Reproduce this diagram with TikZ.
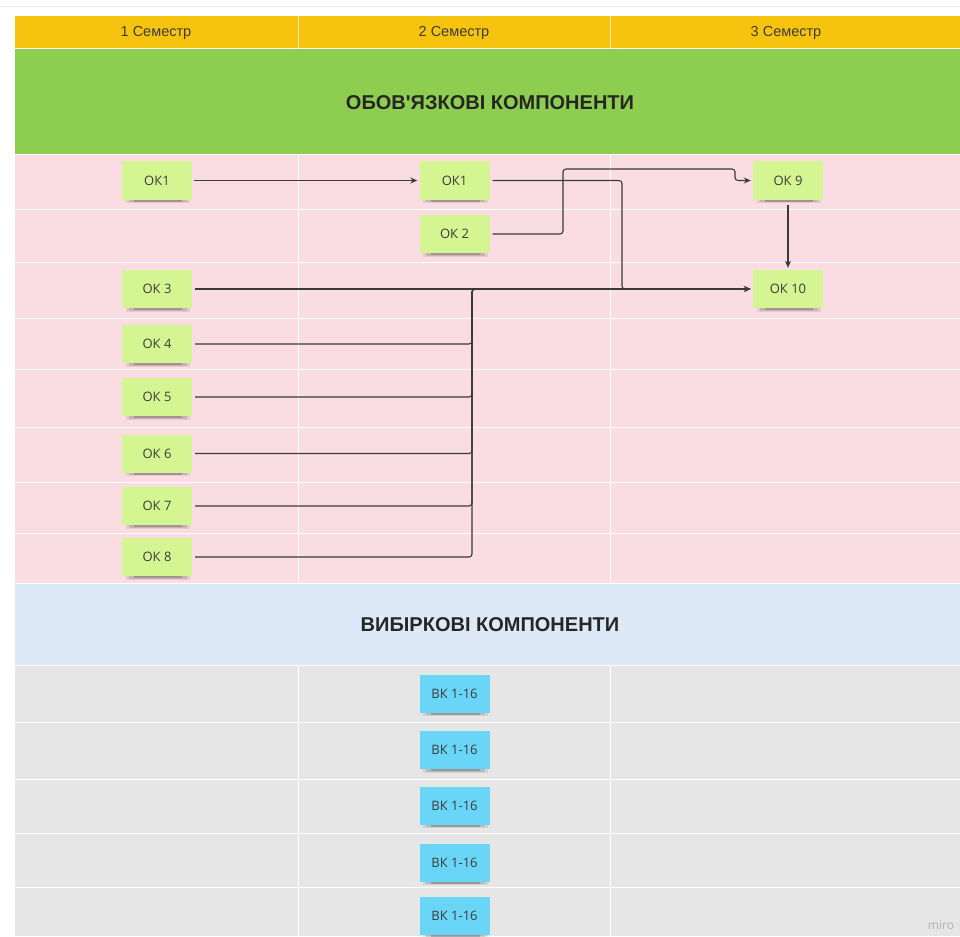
\documentclass[tikz,border=0pt]{standalone}
\usepackage{fontspec}
\setmainfont{Liberation Sans}
\newfontfamily\stickyfont{Open Sans}
\usetikzlibrary{arrows.meta,calc}
\definecolor{hdryellow}{HTML}{F6C30F}
\definecolor{bandgreen}{HTML}{8DCD4F}
\definecolor{rowpink}{HTML}{F9DDE2}
\definecolor{bandblue}{HTML}{DDE9F6}
\definecolor{rowgray}{HTML}{E6E6E6}
\definecolor{notegreen}{HTML}{D5F592}
\definecolor{noteblue}{HTML}{6AD6F7}
\definecolor{linegray}{HTML}{3A3A3A}
\definecolor{txtgray}{HTML}{3C3C3C}
\tikzset{
  sticky/.style={minimum width=70pt, minimum height=38pt, inner sep=0pt,
    font=\stickyfont\fontsize{13}{15}\selectfont, text=txtgray},
  okbox/.style={sticky, fill=notegreen},
  vkbox/.style={sticky, fill=noteblue},
  conn/.style={draw=linegray, line width=1.1pt, rounded corners=3pt},
  arr/.style={-{Stealth[length=7pt,width=6pt]}},
  sep/.style={draw=white, line width=1pt},
  hdr/.style={font=\fontsize{14.5}{16}\selectfont, text=txtgray},
  band/.style={font=\bfseries\fontsize{20}{22}\selectfont, text=black!85}
}
\newcommand{\notesh}[1]{%
  \fill[black,opacity=0.08] ($(#1.south west)+(4,-2)$) rectangle ($(#1.south east)+(-2,3.5)$);
  \fill[black,opacity=0.12] ($(#1.south west)+(7,-2)$) rectangle ($(#1.south east)+(-5,2.5)$);
  \fill[black,opacity=0.18] ($(#1.south west)+(12,-2)$) rectangle ($(#1.south east)+(-10,2)$);}
\begin{document}
\begin{tikzpicture}[x=1pt,y=-1pt]
\useasboundingbox (0,0) rectangle (960,936);
\fill[white] (0,0) rectangle (960,936);
\draw[black!8, line width=1pt] (0,7) -- (960,7);
% backgrounds
\fill[hdryellow] (15,16) rectangle (960,49);
\fill[bandgreen] (15,49) rectangle (960,155);
\fill[rowpink] (15,155) rectangle (960,583);
\fill[bandblue] (15,583) rectangle (960,665);
\fill[rowgray] (15,665) rectangle (960,936);
% separators
\foreach \y in {209,262,318,369,427,482,533} \draw[sep] (15,\y) -- (960,\y);
\foreach \y in {722,779,833,887} \draw[sep] (15,\y) -- (960,\y);
\draw[sep] (15,49) -- (960,49);
\draw[sep] (15,155) -- (960,155);
\draw[sep] (15,583) -- (960,583);
\draw[sep] (15,665) -- (960,665);
\foreach \x in {298,610} {
  \draw[draw=white!70!hdryellow, line width=1pt] (\x,16) -- (\x,49);
  \draw[sep] (\x,155) -- (\x,583);
  \draw[sep] (\x,665) -- (\x,936);
}
% header texts
\node[hdr] (h1) at (156,33) {1 Семестр};
\node[hdr] (h2) at (454,33) {2 Семестр};
\node[hdr] (h3) at (786,33) {3 Семестр};
\node[band] (b1) at (490,103) {ОБОВ\textquotesingle ЯЗКОВІ КОМПОНЕНТИ};
\node[band] (b2) at (490,625) {ВИБІРКОВІ КОМПОНЕНТИ};
% note positions (shadows first)
\coordinate (p-ok1a) at (157,180.5);
\coordinate (p-ok1b) at (454.5,180.5);
\coordinate (p-ok2) at (454.5,234);
\coordinate (p-ok3) at (157,289);
\coordinate (p-ok9) at (788,180.5);
\coordinate (p-ok10) at (788,289);
\coordinate (p-ok4) at (157,344);
\coordinate (p-ok5) at (157,397);
\coordinate (p-ok6) at (157,453.5);
\coordinate (p-ok7) at (157,506);
\coordinate (p-ok8) at (157,557);
\coordinate (p-vk1) at (454.5,693.5);
\coordinate (p-vk2) at (454.5,750);
\coordinate (p-vk3) at (454.5,805.5);
\coordinate (p-vk4) at (454.5,862.5);
\coordinate (p-vk5) at (454.5,915.5);
\foreach \n in {ok1a,ok1b,ok2,ok3,ok9,ok10,ok4,ok5,ok6,ok7,ok8,vk1,vk2,vk3,vk4,vk5}
  {\node[sticky, fill=none] (s-\n) at (p-\n) {}; \notesh{s-\n}}
% notes
\node[okbox] (ok1a) at (p-ok1a) {ОК1};
\node[okbox] (ok1b) at (p-ok1b) {ОК1};
\node[okbox] (ok2) at (p-ok2) {ОК 2};
\node[okbox] (ok3) at (p-ok3) {ОК 3};
\node[okbox] (ok9) at (p-ok9) {ОК 9};
\node[okbox] (ok10) at (p-ok10) {ОК 10};
\node[okbox] (ok4) at (p-ok4) {ОК 4};
\node[okbox] (ok5) at (p-ok5) {ОК 5};
\node[okbox] (ok6) at (p-ok6) {ОК 6};
\node[okbox] (ok7) at (p-ok7) {ОК 7};
\node[okbox] (ok8) at (p-ok8) {ОК 8};
\node[vkbox] (vk1) at (p-vk1) {ВК 1-16};
\node[vkbox] (vk2) at (p-vk2) {ВК 1-16};
\node[vkbox] (vk3) at (p-vk3) {ВК 1-16};
\node[vkbox] (vk4) at (p-vk4) {ВК 1-16};
\node[vkbox] (vk5) at (p-vk5) {ВК 1-16};
% junction coordinates
\coordinate (j1) at (622,0);
\coordinate (j2) at (563,169);
\coordinate (j3) at (735,0);
\coordinate (bus) at (472,0);
% connectors
\draw[conn,arr,shorten <=2pt,shorten >=2pt] (ok1a.east) -- (ok1b.west);
\draw[conn,arr,shorten >=2pt] ($(ok1b.east)+(3,0)$) -- (ok1b.east -| j1) -- (j1 |- ok10.west) -- (ok10.west);
\draw[conn,arr,shorten >=2pt] ($(ok2.east)+(3,0)$) -- (ok2.east -| j2) -- (j2) -- (j2 -| j3) -- (j3 |- ok9.west) -- (ok9.west);
\draw[conn,arr,shorten <=5pt,shorten >=2pt] (ok9.south) -- (ok10.north);
\foreach \n in {ok4,ok5,ok6,ok7,ok8}
  \draw[conn] ($(\n.east)+(3,0)$) -- (\n.east -| bus) -- (bus |- ok10.west) -- ($(bus |- ok10.west)+(12,0)$);
\draw[conn,arr,shorten >=2pt] ($(ok3.east)+(3,0)$) -- (ok10.west);
% watermark
\node[font=\stickyfont\fontsize{12}{14}\selectfont, text=black!30] (miro) at (941,925) {miro};
\end{tikzpicture}
\end{document}
